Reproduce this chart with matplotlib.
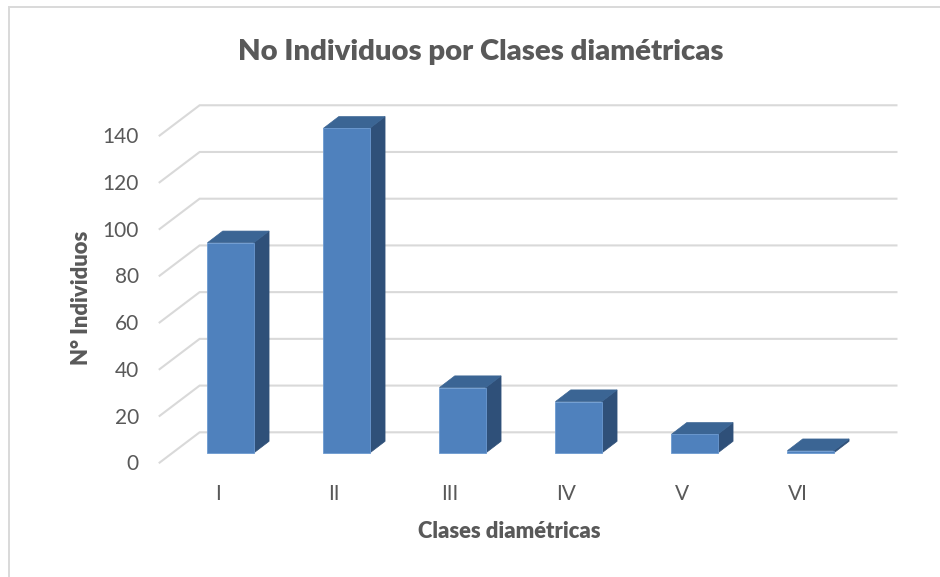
import matplotlib.pyplot as plt
from matplotlib.lines import Line2D
from matplotlib.patches import Polygon

# ============================
# Data
# ============================

clases = ["I", "II", "III", "IV", "V", "VI"]
individuos = [90, 139, 28, 22, 8, 1]
y_ticks = [0, 20, 40, 60, 80, 100, 120, 140]

W, H = 940, 577
plt.rcParams["font.family"] = ["Lato", "DejaVu Sans"]

# ============================
# Axes: one category = 116 px, one individual = 2.336 px
# ============================

fig = plt.figure(figsize=(W / 100, H / 100), dpi=100)
base_px = 453
top_px = base_px - 140 * 2.336
left_px = 230.6 - 58
ax = fig.add_axes([left_px / W, 1 - base_px / H, 116 * 6 / W, (base_px - top_px) / H])
ax.set_xlim(-0.5, 5.5)
ax.set_ylim(0, 140)
ax.axis("off")

# chart frame, only top and left show in the picture
fig.add_artist(Line2D([9 / W, 9 / W, 1], [0, 1 - 6.5 / H, 1 - 6.5 / H],
                      transform=fig.transFigure, color="#D9D9D9", linewidth=1.4,
                      solid_joinstyle="miter"))

# depth of the fake 3D, in data units
bar_w = 46.3 / 116
depth_x = 15.3 / 116
depth_y = 11.7 / 2.336
front_x, front_y = -0.612, -4.11
back_x, back_y = -0.267, 8.86
right_x = 5.74

# ============================
# Grid on wall and floor
# ============================

for v in y_ticks:
    ax.plot([front_x, back_x, right_x], [v + front_y, v + back_y, v + back_y],
            color="#D9D9D9", linewidth=1.5, clip_on=False, zorder=1,
            solid_joinstyle="miter")
    ax.text(-0.79, v - 4.0, str(v), ha="right", va="center_baseline", fontsize=15,
            color="#595959")

# ============================
# Bars
# ============================

for i, v in enumerate(individuos):
    x0 = i - bar_w / 2
    x1 = i + bar_w / 2
    side = [(x1, 0), (x1 + depth_x, depth_y), (x1 + depth_x, v + depth_y), (x1, v)]
    top = [(x0, v), (x0 + depth_x, v + depth_y), (x1 + depth_x, v + depth_y), (x1, v)]
    ax.add_patch(Polygon(side, closed=True, facecolor="#2F5079", edgecolor="#2F5079",
                         linewidth=0.5, clip_on=False, zorder=3))
    ax.add_patch(Polygon(top, closed=True, facecolor="#3B6594", edgecolor="#3B6594",
                         linewidth=0.5, clip_on=False, zorder=3))
    ax.bar(i, v, width=bar_w, color="#4F81BD", edgecolor="#6C9AD1", linewidth=0.6,
           clip_on=False, zorder=4)
    ax.text(i - 0.11, -17.5, clases[i], ha="center", va="center", fontsize=15,
            color="#595959")

# ============================
# Titles
# ============================

fig.text(481 / W, 1 - 52 / H, "No Individuos por Clases diamétricas", ha="center",
         va="center", fontsize=21.1, fontweight="heavy", color="#595959")
fig.text(509 / W, 1 - 531 / H, "Clases diamétricas", ha="center", va="center",
         fontsize=15.8, fontweight="heavy", color="#595959")
fig.text(81.5 / W, 1 - 298 / H, "N° Individuos", ha="center", va="center", rotation=90,
         fontsize=15.8, fontweight="heavy", color="#595959")

fig.savefig("out.png", dpi=100)
plt.close(fig)
